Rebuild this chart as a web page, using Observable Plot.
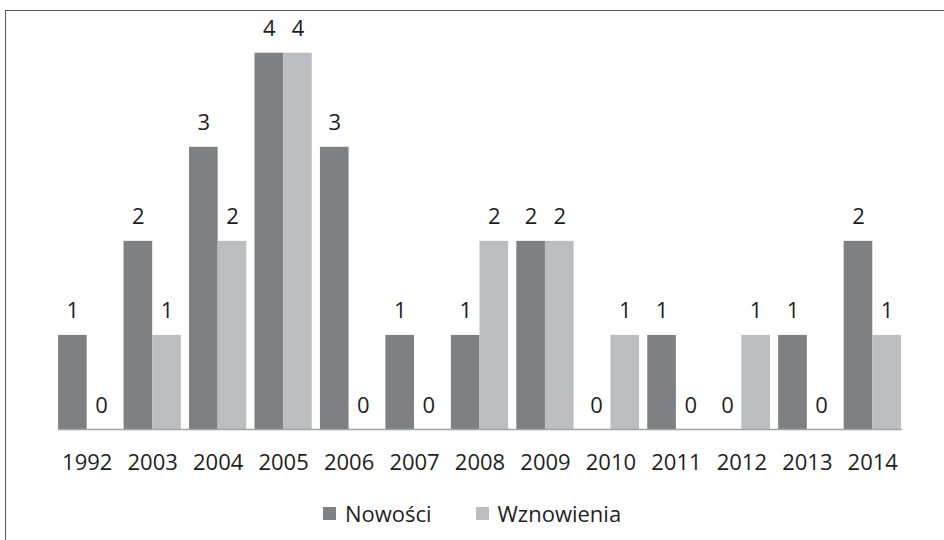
<!DOCTYPE html>
<html>
<head>
<meta charset="utf-8">
<script src="https://cdn.jsdelivr.net/npm/d3@7"></script>
<script src="https://cdn.jsdelivr.net/npm/@observablehq/plot@0.6"></script>
<style>
  html, body { margin: 0; padding: 0; background: #fff; }
  body { width: 944px; height: 540px; position: relative; overflow: hidden; font-family: "Open Sans", sans-serif; }
  #chart { position: absolute; left: 0; top: 0; }
  .bt { position: absolute; left: 5px; top: 10px; width: 939px; height: 0; border-top: 1.5px solid #555; }
  .bl { position: absolute; left: 5px; top: 10px; width: 0; height: 530px; border-left: 1.5px solid #555; }
  #legend { position: absolute; left: 0; top: 498px; width: 944px; display: flex; justify-content: center; align-items: center; font-size: 22px; color: #1e1e1e; }
  .item { display: flex; align-items: center; margin: 0 22px; }
  .sw { width: 13px; height: 13px; margin-right: 9px; }
</style>
</head>
<body>
<div class="bt"></div>
<div class="bl"></div>
<div id="chart"></div>
<div id="legend"></div>
<script>
const years = ["1992","2003","2004","2005","2006","2007","2008","2009","2010","2011","2012","2013","2014"];
const series = ["Nowości", "Wznowienia"];
const nowosci =    [1,2,3,4,3,1,1,2,0,1,0,1,2];
const wznowienia = [0,1,2,4,0,0,2,2,1,0,1,0,1];
const colors = ["#7f8084", "#bcbdc1"];

const data = [];
years.forEach((yr, i) => {
  data.push({year: yr, series: series[0], value: nowosci[i]});
  data.push({year: yr, series: series[1], value: wznowienia[i]});
});

const chart = Plot.plot({
  width: 944,
  height: 490,
  marginLeft: 54,
  marginRight: 39,
  marginTop: 52.7,
  marginBottom: 61,
  style: {fontFamily: "Open Sans, sans-serif", fontSize: "22px", color: "#1e1e1e", background: "transparent"},
  fx: {domain: years, paddingInner: 0.125, paddingOuter: 0.0625, round: false, label: null},
  x: {domain: series, padding: 0, round: false, axis: null},
  y: {domain: [0, 4], axis: null},
  color: {domain: series, range: colors},
  marks: [
    Plot.barY(data, {fx: "year", x: "series", y: "value", fill: "series"}),
    Plot.frame({anchor: "bottom", stroke: "#a3a3a7", strokeWidth: 1.5, facet: "super"}),
    Plot.text(data, {fx: "year", x: "series", y: "value", text: d => String(d.value), dy: -17, lineAnchor: "bottom", fill: "#1e1e1e", fontSize: 22}),
    Plot.axisFx({anchor: "bottom", tickSize: 0, tickPadding: 25, fontSize: 22, label: null, fill: "#1e1e1e"})
  ]
});
document.getElementById("chart").appendChild(chart);

const legend = d3.select("#legend");
series.forEach((s, i) => {
  const it = legend.append("div").attr("class", "item");
  it.append("div").attr("class", "sw").style("background", colors[i]);
  it.append("span").text(s);
});
</script>
</body>
</html>
